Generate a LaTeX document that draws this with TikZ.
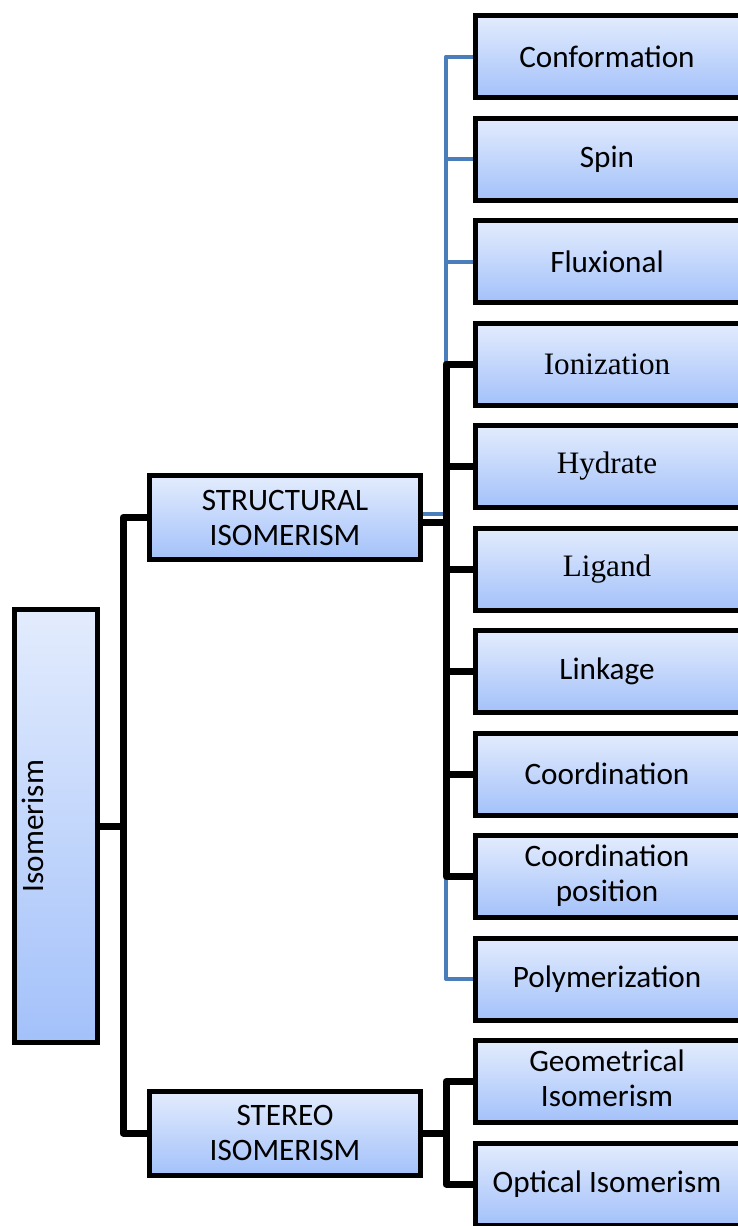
\documentclass[tikz,border=0pt]{standalone}
\usepackage{fontspec}
\setmainfont{Carlito}
\newfontfamily\timesfont{Liberation Serif}
\usetikzlibrary{shadows,backgrounds}

\definecolor{boxtop}{RGB}{227,236,253}
\definecolor{boxbottom}{RGB}{163,193,250}
\definecolor{linkblue}{RGB}{74,126,187}

\tikzset{
  isobox/.style={rectangle, draw=black, line width=2.5pt, top color=boxtop, bottom color=boxbottom,
    drop shadow={shadow xshift=0.8pt, shadow yshift=-1.2pt, opacity=0.3, fill=black},
    align=center, inner sep=0pt, font=\fontsize{15.6}{17.5}\selectfont},
  kindbox/.style={isobox, draw=none, outer sep=0pt, minimum width=138pt, minimum height=41pt},
  kindedge/.style={line width=2.5pt, black, line join=miter},
  groupbox/.style={isobox, minimum width=135.5pt, minimum height=42pt},
  trunk/.style={line width=3.5pt, black, line join=round, line cap=rect},
  bluelink/.style={line width=2pt, linkblue, line join=round}
}

\begin{document}
\begin{tikzpicture}[x=0.5pt, y=-0.5pt]
    \useasboundingbox (0,0) rectangle (738,1226);

    % Root
    \node (isom) [isobox, minimum width=41.5pt, minimum height=216.5pt] at (56,826) {\rotatebox{90}{Isomerism}\hspace{23pt}};

    % Groups
    \node (struct) [groupbox] at (285,517.5) {STRUCTURAL\\ISOMERISM};
    \node (stereo) [groupbox] at (285,1133) {STEREO\\ISOMERISM};

    % Structural kinds (right edge runs off the page)
    \node (conf) [kindbox, anchor=west] at (475,56.5) {Conformation\hspace{6pt}};
    \node (spin) [kindbox, anchor=west] at (475,159) {Spin\hspace{6pt}};
    \node (flux) [kindbox, anchor=west] at (475,261.5) {Fluxional\hspace{6pt}};
    \node (ion) [kindbox, anchor=west] at (475,364) {\timesfont Ionization\hspace{6pt}};
    \node (hyd) [kindbox, anchor=west] at (475,466.5) {\timesfont Hydrate\hspace{6pt}};
    \node (lig) [kindbox, anchor=west] at (475,569) {\timesfont Ligand\hspace{6pt}};
    \node (link) [kindbox, anchor=west] at (475,671.5) {Linkage\hspace{6pt}};
    \node (coord) [kindbox, anchor=west] at (475,774) {Coordination\hspace{6pt}};
    \node (cpos) [kindbox, anchor=west] at (475,876.5) {\begin{tabular}{@{}c@{}}Coordination\\position\end{tabular}\hspace{6pt}};
    \node (poly) [kindbox, anchor=west] at (475,979) {Polymerization\hspace{6pt}};

    % Stereo kinds
    \node (geom) [kindbox, anchor=west] at (475,1081.5) {\begin{tabular}{@{}c@{}}Geometrical\\Isomerism\end{tabular}\hspace{6pt}};
    \node (optic) [kindbox, anchor=west] at (475,1184) {Optical Isomerism\hspace{6pt}};

    % Box edges, open where the page cuts them
    \foreach \k in {conf,spin,flux,ion,hyd,lig,link,coord,cpos,poly,geom,optic}
        \draw[kindedge] (\k.north east) -- (\k.north west) -- (\k.south west) -- (\k.south east);

    % Junctions
    \coordinate (jmain) at (123,826);
    \coordinate (jblue) at (446,514);
    \coordinate (jblack) at (446,522);
    \coordinate (jstereo) at (446,1133);

    \begin{scope}[on background layer]
        % Blue branches
        \draw[bluelink] ([yshift=1.75pt]struct.east) -- (jblue);
        \draw[bluelink] (jblue) |- (conf.west);
        \draw[bluelink] (jblue) |- (spin.west);
        \draw[bluelink] (jblue) |- (flux.west);
        \draw[bluelink] (jblue) |- (poly.west);

        % Root to groups
        \draw[trunk] (isom.east) -- (jmain);
        \draw[trunk] (struct.west) -| (jmain) |- (stereo.west);

        % Black branches
        \draw[trunk] ([yshift=-2.25pt]struct.east) -- (jblack);
        \draw[trunk] (jblack) |- (ion.west);
        \draw[trunk] (jblack) |- (hyd.west);
        \draw[trunk] (jblack) |- (lig.west);
        \draw[trunk] (jblack) |- (link.west);
        \draw[trunk] (jblack) |- (coord.west);
        \draw[trunk] (jblack) |- (cpos.west);

        % Stereo branches
        \draw[trunk] (stereo.east) -- (jstereo);
        \draw[trunk] (jstereo) |- (geom.west);
        \draw[trunk] (jstereo) |- (optic.west);
    \end{scope}
\end{tikzpicture}
\end{document}
